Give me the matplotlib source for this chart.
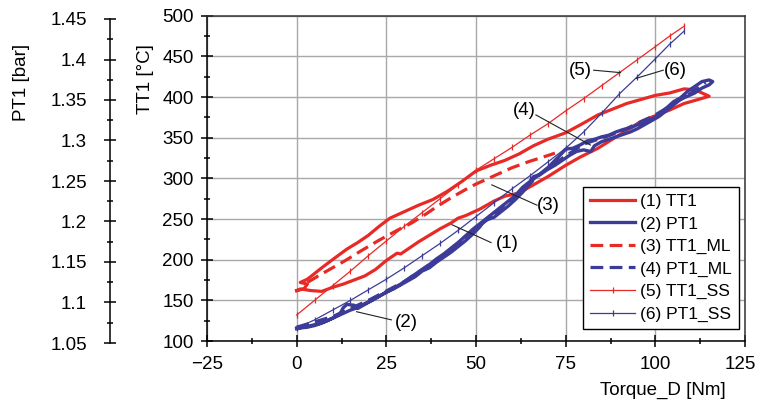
#plot.py
#TT1 / PT1 against drive torque, measured loop vs ML model vs steady state

import matplotlib.pyplot as plt
import matplotlib.transforms as mtransforms
from matplotlib.ticker import MultipleLocator

plt.rcParams['font.family'] = ['Liberation Sans', 'DejaVu Sans']

RED = '#e82a26'
BLUE = '#3c3c98'

# (1) TT1 measured, up branch then back down
tt1_torque = [0, 2, 3, 1, 3, 5, 7, 10, 14, 17, 20, 23, 26, 30, 34, 38, 42, 46, 50,
              54, 58, 62, 66, 70, 75, 80, 84, 88, 92, 96, 100, 104, 108, 111, 115,
              112, 108, 104, 100, 96, 92, 88, 84, 79, 75, 70, 66, 62, 58, 55, 51, 47,
              45, 43, 40, 37, 34, 31, 29, 28, 25, 22, 19, 16, 13, 10, 7, 4, 1, 0]
tt1_temp = [162, 164, 170, 172, 176, 183, 190, 200, 213, 221, 230, 241, 251, 259, 267,
            274, 284, 296, 309, 316, 322, 330, 340, 348, 356, 368, 378, 385, 392, 397,
            402, 405, 410, 409, 401,
            397, 392, 384, 377, 370, 359, 348, 337, 326, 316, 302, 292, 282, 278, 272,
            262, 254, 251, 245, 238, 230, 222, 213, 207, 208, 199, 188, 180, 175, 170,
            166, 161, 162, 164, 162]

# (2) PT1 measured, drawn on the TT1 scale (100..500 <-> 1.05..1.45 bar)
pt1_torque = [0, 2, 4, 6, 8, 10, 12, 13, 14, 16, 17, 19, 21, 23, 25, 27, 29, 31, 33,
              35, 37, 39, 41, 43, 45, 47, 49, 51, 52, 53, 55, 57, 59, 61, 63, 65, 66,
              68, 70, 72, 74, 75, 77, 79, 81, 83, 85, 87, 89, 91, 93, 95, 97, 99, 101,
              103, 105, 107, 109, 111, 113, 115, 116, 115,
              113, 111, 109, 107, 105, 103, 101, 99, 97, 95, 93, 91, 89, 87, 85, 83,
              82, 80, 78, 76, 74, 72, 70, 68, 66, 65, 63, 61, 59, 57, 55, 53, 51, 49,
              47, 45, 43, 41, 39, 37, 35, 33, 31, 29, 27, 25, 23, 21, 19, 17, 15, 13,
              11, 9, 7, 5, 3, 1, 0]
pt1_temp = [116, 117, 119, 121, 124, 128, 133, 141, 145, 144, 140, 145, 150, 155, 160,
            164, 169, 174, 179, 186, 190, 197, 203, 209, 216, 223, 231, 240, 246, 249,
            252, 259, 266, 274, 283, 293, 299, 306, 313, 322, 331, 336, 337, 341, 346,
            348, 351, 353, 357, 360, 362, 366, 369, 373, 378, 386, 394, 399, 407, 413,
            419, 421, 419, 415,
            411, 405, 401, 397, 390, 383, 376, 371, 366, 361, 357, 354, 351, 348, 345,
            340, 333, 335, 333, 328, 322, 316, 311, 305, 302, 296, 289, 279, 272, 265,
            258, 251, 244, 237, 229, 221, 214, 207, 201, 194, 188, 182, 176, 170, 165,
            160, 155, 150, 146, 141, 138, 134, 130, 126, 122, 119, 117, 116, 115]

# (3) TT1_ML
ml_tt1_torque = [3, 6, 10, 14, 18, 23, 28, 32, 36, 39, 43, 47, 50, 55, 60, 65, 70, 72]
ml_tt1_temp = [172, 180, 190, 200, 211, 224, 236, 245, 256, 265, 276, 286, 293, 303,
               313, 321, 328, 331]

# (4) PT1_ML
ml_pt1_torque = [0, 10, 20, 30, 40, 50, 60, 70, 80, 90, 100, 110, 114]
ml_pt1_temp = [117, 130, 150, 173, 203, 238, 274, 313, 342, 357, 378, 405, 418]

# (5) TT1_SS and (6) PT1_SS
ss_torque = [0, 5, 10, 15, 20, 25, 30, 35, 40, 45, 50, 55, 60, 65, 70, 75, 80, 85, 90,
             95, 100, 104, 108]
ss_tt1 = [132, 150, 168, 186, 205, 223, 241, 258, 275, 292, 310, 324, 338, 353, 367,
          383, 398, 414, 430, 446, 462, 475, 487]
ss_pt1 = [116, 126, 138, 150, 163, 176, 190, 205, 220, 236, 253, 270, 287, 303, 320,
          337, 357, 380, 404, 425, 447, 465, 481]

# callout labels: text pos, line start, line end
callouts = [('(1)', (58.6, 220), (43.3, 243), (54.2, 221)),
            ('(2)', (30.6, 123), (16.7, 136), (26.4, 126)),
            ('(3)', (70.3, 267), (54.4, 292), (67.0, 267)),
            ('(4)', (63.5, 384), (81.9, 341), (66.7, 378)),
            ('(5)', (79.2, 433), (90.3, 430), (82.8, 433)),
            ('(6)', (105.6, 433), (94.7, 423), (102.2, 433))]

x_ticks = [-25, 0, 25, 50, 75, 100, 125]
x_ticklabels = ['\u221225', '0', '25', '50', '75', '100', '125']

W, H = 758, 401
fig = plt.figure(figsize=(W / 100, H / 100), dpi=100)
ax = fig.add_axes([207 / W, 60 / H, 538 / W, 325.3 / H])

ax.plot(tt1_torque, tt1_temp, color=RED, lw=2.3, label='(1) TT1', zorder=3)
ax.plot(pt1_torque, pt1_temp, color=BLUE, lw=2.4, label='(2) PT1', zorder=3)
ax.plot(ml_tt1_torque, ml_tt1_temp, color=RED, lw=2.3, dashes=(4, 2), label='(3) TT1_ML', zorder=3)
ax.plot(ml_pt1_torque, ml_pt1_temp, color=BLUE, lw=2.3, dashes=(4, 2), label='(4) PT1_ML', zorder=3)
ax.plot(ss_torque, ss_tt1, color=RED, lw=0.9, marker='|', ms=4, mew=0.9, label='(5) TT1_SS', zorder=4)
ax.plot(ss_torque, ss_pt1, color=BLUE, lw=0.9, marker='|', ms=4, mew=0.9, label='(6) PT1_SS', zorder=4)

for txt, tpos, p0, p1 in callouts:
    ax.plot([p0[0], p1[0]], [p0[1], p1[1]], color='#222222', lw=0.8, zorder=5)
    ax.text(tpos[0], tpos[1], txt, fontsize=13.5, ha='center', va='center', zorder=6)

ax.set_xlim(-25, 125)
ax.set_ylim(100, 500)
ax.set_xticks(x_ticks, x_ticklabels)
ax.xaxis.set_minor_locator(MultipleLocator(12.5))
ax.yaxis.set_major_locator(MultipleLocator(50))
ax.yaxis.set_minor_locator(MultipleLocator(25))
ax.tick_params(which='major', direction='inout', length=9, width=1.1, labelsize=13.5)
ax.tick_params(which='minor', direction='inout', length=5, width=1.1)
ax.tick_params(axis='x', pad=6)
ax.tick_params(axis='y', pad=5)
ax.grid(True, which='major', color='#a8a8a8', lw=1.0)
for s in ax.spines.values():
    s.set_color('#333333')
    s.set_linewidth(1.1)
ax.spines['left'].set_color('black')
ax.spines['bottom'].set_color('black')

# last x label sits on the image edge, pull it in a little
last = ax.get_xticklabels()[-1]
last.set_transform(last.get_transform() + mtransforms.ScaledTranslation(-5 / 100, 0, fig.dpi_scale_trans))

leg = ax.legend(loc='upper left', bbox_to_anchor=(583 / W, 1 - 187 / H),
                bbox_transform=fig.transFigure, borderaxespad=0, fontsize=12.5,
                fancybox=False, framealpha=1, edgecolor='black', handlelength=2.6,
                handletextpad=0.3, labelspacing=0.42, borderpad=0.4, numpoints=1)
leg.get_frame().set_linewidth(1.0)

# separate PT1 pressure scale on the far left
ax2 = fig.add_axes([110 / W, 58 / H, 0.0001, 324 / H])
ax2.set_facecolor('none')
ax2.set_ylim(1.05, 1.45)
ax2.set_xticks([])
for side in ['top', 'right', 'bottom']:
    ax2.spines[side].set_visible(False)
ax2.spines['left'].set_linewidth(1.1)
ax2.yaxis.set_minor_locator(MultipleLocator(0.025))
ax2.set_yticks([1.05, 1.1, 1.15, 1.2, 1.25, 1.3, 1.35, 1.4, 1.45],
               ['1.05', '1.1', '1.15', '1.2', '1.25', '1.3', '1.35', '1.4', '1.45'])
ax2.tick_params(which='major', direction='inout', length=9, width=1.1, labelsize=13.5, pad=12)
ax2.tick_params(which='minor', direction='inout', length=5, width=1.1)

fig.text(22 / W, 1 - 82 / H, 'PT1 [bar]', rotation=90, fontsize=13.5, ha='center', va='center')
fig.text(146 / W, 1 - 79 / H, 'TT1 [°C]', rotation=90, fontsize=13.5, ha='center', va='center')
fig.text(663 / W, 1 - 390 / H, 'Torque_D [Nm]', fontsize=13.5, ha='center', va='center')

fig.savefig('out.png', dpi=100)
